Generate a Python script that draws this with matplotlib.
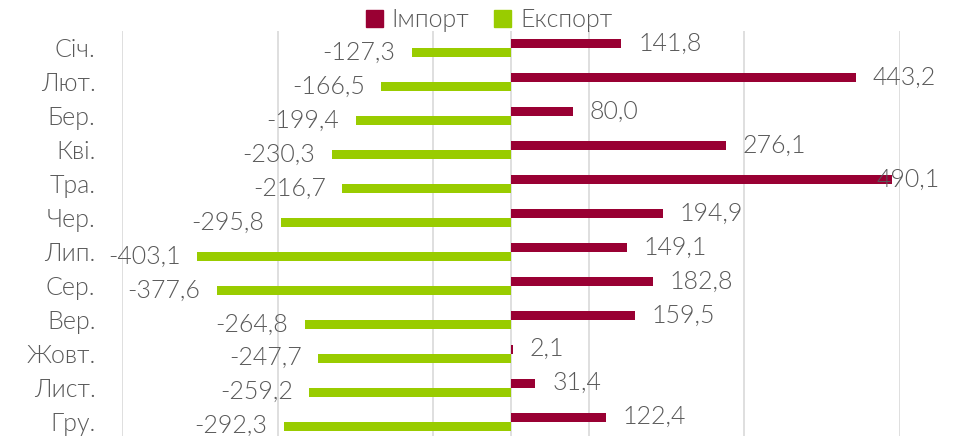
"""
Monthly import / export bars (horizontal, diverging around zero).
Import above, export below for every month.
"""

import matplotlib
matplotlib.use("Agg")
import matplotlib.pyplot as plt
from matplotlib.patches import Patch

MONTHS = ["Січ.", "Лют.", "Бер.", "Кві.", "Тра.", "Чер.",
          "Лип.", "Сер.", "Вер.", "Жовт.", "Лист.", "Гру."]
IMPORT = [141.8, 443.2, 80.0, 276.1, 490.1, 194.9,
          149.1, 182.8, 159.5, 2.1, 31.4, 122.4]
EXPORT = [-127.3, -166.5, -199.4, -230.3, -216.7, -295.8,
          -403.1, -377.6, -264.8, -247.7, -259.2, -292.3]
GRID_TICKS = [-500, -300, -100, 100, 300, 500]

IMPORT_COLOR = "#990033"
EXPORT_COLOR = "#99CC00"
TEXT_COLOR = "#595959"
GRID_COLOR = "#D9D9D9"

W, H, DPI = 955, 436, 100
plt.rcParams["font.family"] = ["Lato", "DejaVu Sans"]
plt.rcParams["font.weight"] = 300


def fmt(v):
    return f"{v:.1f}".replace(".", ",")


fig = plt.figure(figsize=(W / DPI, H / DPI), dpi=DPI)
# plot area in pixels: x 122..900, y 31..436 (chart is cut at the bottom)
ax = fig.add_axes([122 / W, 0, (900 - 122) / W, (436 - 31) / H])

pos = list(range(len(MONTHS)))
bh = 0.265
ax.barh([p - bh / 2 for p in pos], IMPORT, height=bh, color=IMPORT_COLOR, zorder=3)
ax.barh([p + bh / 2 for p in pos], EXPORT, height=bh, color=EXPORT_COLOR, zorder=3)

ax.set_xlim(-500, 500)
ax.set_ylim(11.42, -0.5)
ax.set_xticks(GRID_TICKS)
ax.set_xticklabels([])
ax.tick_params(axis="x", length=0)
ax.grid(axis="x", color=GRID_COLOR, linewidth=1.2, zorder=0)
ax.axvline(0, color=GRID_COLOR, linewidth=1.2, zorder=1)
ax.set_yticks(pos)
ax.set_yticklabels(MONTHS, fontsize=18, color=TEXT_COLOR)
ax.tick_params(axis="y", length=0, pad=19)
for s in ax.spines.values():
    s.set_visible(False)

labels = []
for p, v in zip(pos, IMPORT):
    t = ax.annotate(fmt(v), xy=(v, p - bh / 2), xytext=(12, 0),
                    textcoords="offset points", ha="left", va="center",
                    fontsize=18, color=TEXT_COLOR, zorder=4,
                    annotation_clip=False)
    labels.append(t)
for p, v in zip(pos, EXPORT):
    ax.annotate(fmt(v), xy=(v, p + bh / 2), xytext=(-12, 0),
                textcoords="offset points", ha="right", va="center",
                fontsize=18, color=TEXT_COLOR, zorder=4,
                annotation_clip=False)

# keep labels inside the chart area, like the spreadsheet does
fig.canvas.draw()
renderer = fig.canvas.get_renderer()
for t in labels:
    bb = t.get_window_extent(renderer)
    if bb.x1 > 940:
        dx, dy = t.xyann
        t.xyann = (dx - (bb.x1 - 940) * 72 / DPI, dy)

handles = [Patch(color=IMPORT_COLOR, label="Імпорт"),
           Patch(color=EXPORT_COLOR, label="Експорт")]
fig.legend(handles=handles, loc="center", bbox_to_anchor=(489 / W, 1 - 20 / H),
           ncol=2, frameon=False, fontsize=18, labelcolor=TEXT_COLOR,
           handlelength=0.68, handleheight=0.68, handletextpad=0.35,
           columnspacing=1.0, borderpad=0)

fig.savefig("out.png", dpi=DPI)
